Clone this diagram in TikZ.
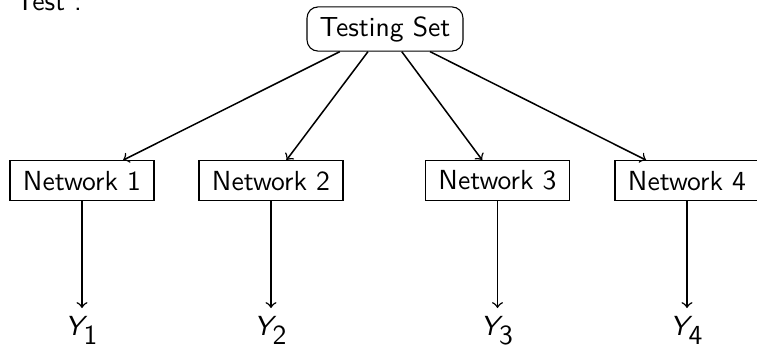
\documentclass[tikz,border=0pt]{standalone}
\usetikzlibrary{arrows}
\begin{document}
\begin{tikzpicture}[x=0.3623pt,y=-0.3623pt,line width=0.55pt,
  every node/.style={font=\sffamily},
  netbox/.style={draw,line width=0.4pt,inner sep=0pt,minimum width=52.2pt,minimum height=14.5pt},
  setbox/.style={draw,line width=0.4pt,rounded corners=4pt,inner sep=0pt,minimum width=56.5pt,minimum height=16pt},
  outlabel/.style={inner sep=2.8pt,anchor=north},
  arr/.style={->}]
\useasboundingbox (0,0) rectangle (757,346);
\node[anchor=base west,inner sep=0pt] (title) at (15,10) {Test :};
\node[setbox] (ts) at (385,29) {Testing Set};
\node[netbox] (n1) at (82,180.7) {Network 1};
\node[netbox] (n2) at (271,180.7) {Network 2};
\node[netbox] (n3) at (497.5,180.7) {Network 3};
\node[netbox] (n4) at (687,180.7) {Network 4};
\node[outlabel] (y1) at (82,308) {$\textit{Y}_{\textsf{1}}$};
\node[outlabel] (y2) at (271,308) {$\textit{Y}_{\textsf{2}}$};
\node[outlabel] (y3) at (497.5,308) {$\textit{Y}_{\textsf{3}}$};
\node[outlabel] (y4) at (687,308) {$\textit{Y}_{\textsf{4}}$};
\foreach \n in {n1,n2,n3,n4} \draw[arr] (ts) -- (\n);
\foreach \n/\y in {n1/y1,n2/y2,n3/y3,n4/y4} \draw[arr] (\n.south) -- (\n.south |- \y.north);
\end{tikzpicture}
\end{document}
